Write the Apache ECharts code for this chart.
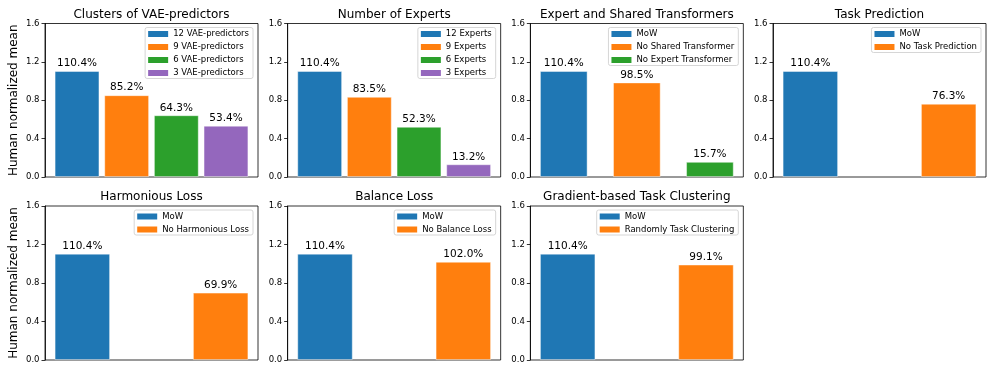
<!DOCTYPE html>
<html><head><meta charset="utf-8">
<script src="https://cdn.jsdelivr.net/npm/echarts@6/dist/echarts.min.js"></script>
<style>html,body{margin:0;padding:0;background:#fff}#c{width:996px;height:374px}</style>
</head><body><div id="c"></div>
<script>
// ---- data ----
const titles = ['Clusters of VAE-predictors','Number of Experts','Expert and Shared Transformers','Task Prediction','Harmonious Loss','Balance Loss','Gradient-based Task Clustering'];
const names1 = ['12 VAE-predictors','9 VAE-predictors','6 VAE-predictors','3 VAE-predictors'];
const vals1  = [1.104, 0.852, 0.643, 0.534];
const names2 = ['12 Experts','9 Experts','6 Experts','3 Experts'];
const vals2  = [1.104, 0.835, 0.523, 0.132];
const names3 = ['MoW','No Shared Transformer','No Expert Transformer'];
const vals3  = [1.104, 0.985, 0.157];
const names4 = ['MoW','No Task Prediction'];
const vals4  = [1.104, 0.763];
const names5 = ['MoW','No Harmonious Loss'];
const vals5  = [1.104, 0.699];
const names6 = ['MoW','No Balance Loss'];
const vals6  = [1.104, 1.020];
const names7 = ['MoW','Randomly Task Clustering'];
const vals7  = [1.104, 0.991];
const yTicks = [0.0, 0.4, 0.8, 1.2, 1.6];
const yLabel = 'Human normalized mean';

// ---- styles / layout ----
const colors = ['#1f77b4','#ff7f0e','#2ca02c','#9467bd'];
const FONT = 'DejaVu Sans';
const W = 996;
const barFrac = [0.9, 0.9, 0.65, 0.4, 0.4, 0.4, 0.4];
const panels = [
  [names1, vals1],[names2, vals2],[names3, vals3],[names4, vals4],
  [names5, vals5],[names6, vals6],[names7, vals7]
];
const gw = 213;
const rowTop = [23.5, 206];
const rowH = [153.5, 154];
const titleTop = [9, 190.5];
function gridLeft(col){ return 45 + col * 242.67; }

const option = {
  animation: false,
  backgroundColor: '#fff',
  title: [], grid: [], xAxis: [], yAxis: [], legend: [], series: []
};

panels.forEach(([names, vals], i) => {
  const row = i < 4 ? 0 : 1;
  const col = i < 4 ? i : i - 4;
  const gl = gridLeft(col), gt = rowTop[row], gh = rowH[row];
  const n = vals.length, w = barFrac[i];
  const span = (n - 1) + w;
  const xmin = -w / 2 - 0.05 * span, xmax = (n - 1) + w / 2 + 0.05 * span;
  const barPx = w * gw / (xmax - xmin);

  option.grid.push({ left: gl, top: gt, width: gw, height: gh, show: true,
    borderColor: '#000', borderWidth: 0.8, backgroundColor: 'transparent', containLabel: false });
  option.title.push({ text: titles[i], left: gl + gw / 2, top: titleTop[row], textAlign: 'center', padding: 0,
    textStyle: { fontSize: 12, fontWeight: 'normal', color: '#000', fontFamily: FONT } });
  option.xAxis.push({ type: 'value', gridIndex: i, min: xmin, max: xmax, show: false,
    axisLine: { onZero: false } });
  option.yAxis.push({ type: 'value', gridIndex: i, min: yTicks[0], max: yTicks[yTicks.length - 1],
    interval: yTicks[1] - yTicks[0], position: 'left',
    name: col === 0 ? yLabel : '', nameLocation: 'middle', nameGap: 25,
    nameTextStyle: { fontSize: 12, color: '#000', fontFamily: FONT },
    axisLine: { show: true, onZero: false, lineStyle: { color: '#000', width: 0.8 } },
    axisTick: { show: true, inside: false, length: 3.5, lineStyle: { color: '#000', width: 0.8 } },
    axisLabel: { fontSize: 8.5, color: '#000', fontFamily: FONT, margin: 5.5, formatter: v => v.toFixed(1) },
    splitLine: { show: false } });
  option.legend.push({ orient: 'vertical', right: W - (gl + gw - 5), top: gt + 4,
    itemWidth: 20, itemHeight: 6, itemGap: 3, icon: 'rect', selectedMode: false,
    padding: [1.5, 4, 0.5, 3], borderColor: '#cccccc', borderWidth: 0.8, borderRadius: 2,
    backgroundColor: 'rgba(255,255,255,0.8)',
    itemStyle: { borderWidth: 0 },
    textStyle: { fontSize: 8.5, color: '#000', fontFamily: FONT, lineHeight: 10 },
    data: names.slice() });
  names.forEach((nm, j) => {
    option.series.push({ type: 'bar', name: nm, xAxisIndex: i, yAxisIndex: i,
      barWidth: barPx, barGap: '-100%',
      itemStyle: { color: colors[j], borderColor: 'rgba(255,255,255,0.55)', borderWidth: 0.8 },
      label: { show: true, position: 'top', distance: 2, fontSize: 10.5, color: '#000', fontFamily: FONT,
        formatter: p => (p.value[1] * 100).toFixed(1) + '%' },
      data: [[j, vals[j]]] });
  });
});

const chart = echarts.init(document.getElementById('c'), null, { renderer: 'canvas' });
chart.setOption(option);
</script></body></html>
